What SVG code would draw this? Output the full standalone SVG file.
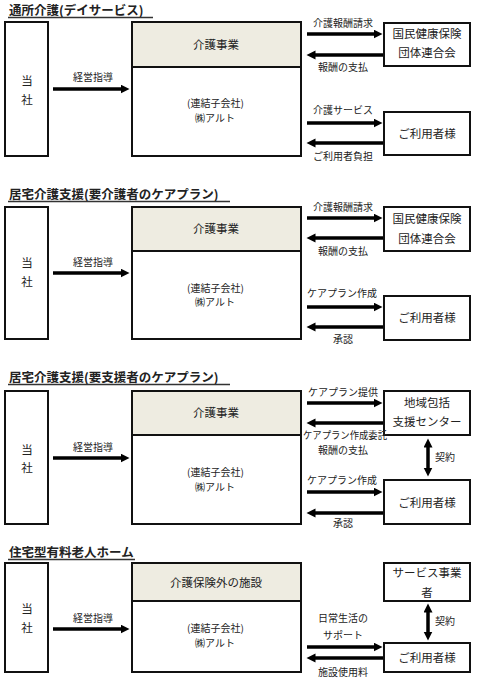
<svg xmlns="http://www.w3.org/2000/svg" width="480" height="683" viewBox="0 0 480 683">
<style>
text{font-family:"Noto Sans CJK JP","Noto Sans",sans-serif;fill:#222}
.t{font-size:12.5px;font-weight:bold}
.ul{stroke:#333;stroke-width:1.5}
.b{fill:#fff;stroke:#111;stroke-width:2}
.h{fill:#EEECE1;stroke:#111;stroke-width:2}
.n{font-size:11.5px;text-anchor:middle}
.s{font-size:10px}
.c{text-anchor:middle}
.a{stroke:#000;stroke-width:3.5;fill:none;marker-end:url(#ah)}
.d{stroke:#000;stroke-width:3.5;fill:none;marker-end:url(#ah);marker-start:url(#ah)}
</style>
<defs>
<marker id="ah" markerWidth="10" markerHeight="10" refX="1.5" refY="4.5" orient="auto-start-reverse" markerUnits="userSpaceOnUse"><path d="M0,0 L9,4.5 L0,9 z" fill="#000"/></marker>
</defs>

<!-- Section 1 -->
<g id="title1"><text class="t" x="9" y="15">通所介護(デイサービス)</text><line class="ul" x1="8" y1="17.5" x2="153" y2="17.5"/></g>
<g id="s1-company"><rect class="b" x="5" y="22" width="43" height="134"/><text class="n" x="27" y="85">当</text><text class="n" x="27" y="104">社</text></g>
<g id="s1-main"><rect class="b" x="132" y="22" width="169" height="134"/><rect class="h" x="132" y="22" width="169" height="45"/><text class="n" x="216" y="49">介護事業</text><text class="s" x="187" y="107">(連結子会社)</text><text class="s" x="195" y="122">㈱アルト</text></g>
<g id="s1-kokuho"><rect class="b" x="384" y="23" width="86" height="43"/><text class="n" x="427" y="38">国民健康保険</text><text class="n" x="427" y="57">団体連合会</text></g>
<g id="s1-user"><rect class="b" x="384" y="112" width="86" height="43"/><text class="n" x="427" y="138">ご利用者様</text></g>

<!-- Section 2 -->
<g id="title2"><text class="t" x="9" y="199">居宅介護支援(要介護者のケアプラン)</text><line class="ul" x1="8" y1="201.5" x2="230" y2="201.5"/></g>
<g id="s2-company"><rect class="b" x="5" y="207" width="43" height="132"/><text class="n" x="27" y="267">当</text><text class="n" x="27" y="286">社</text></g>
<g id="s2-main"><rect class="b" x="132" y="207" width="169" height="132"/><rect class="h" x="132" y="207" width="169" height="44"/><text class="n" x="216" y="233">介護事業</text><text class="s" x="187" y="292">(連結子会社)</text><text class="s" x="195" y="306">㈱アルト</text></g>
<g id="s2-kokuho"><rect class="b" x="384" y="207" width="86" height="44"/><text class="n" x="427" y="223">国民健康保険</text><text class="n" x="427" y="243">団体連合会</text></g>
<g id="s2-user"><rect class="b" x="384" y="296" width="86" height="44"/><text class="n" x="427" y="322">ご利用者様</text></g>

<!-- Section 3 -->
<g id="title3"><text class="t" x="9" y="382">居宅介護支援(要支援者のケアプラン)</text><line class="ul" x1="8" y1="384.5" x2="230" y2="384.5"/></g>
<g id="s3-company"><rect class="b" x="5" y="391" width="43" height="133"/><text class="n" x="27" y="454">当</text><text class="n" x="27" y="472">社</text></g>
<g id="s3-main"><rect class="b" x="132" y="391" width="169" height="133"/><rect class="h" x="132" y="391" width="169" height="44"/><text class="n" x="216" y="417">介護事業</text><text class="s" x="187" y="476">(連結子会社)</text><text class="s" x="195" y="491">㈱アルト</text></g>
<g id="s3-center"><rect class="b" x="384" y="391" width="86" height="44"/><text class="n" x="427" y="407">地域包括</text><text class="n" x="427" y="426">支援センター</text></g>
<g id="s3-user"><rect class="b" x="384" y="480" width="86" height="44"/><text class="n" x="427" y="507">ご利用者様</text></g>

<!-- Section 4 -->
<g id="title4"><text class="t" x="9" y="557">住宅型有料老人ホーム</text><line class="ul" x1="8" y1="559.5" x2="135" y2="559.5"/></g>
<g id="s4-company"><rect class="b" x="5" y="563" width="43" height="109"/><text class="n" x="27" y="613">当</text><text class="n" x="27" y="632">社</text></g>
<g id="s4-main"><rect class="b" x="132" y="563" width="169" height="109"/><rect class="h" x="132" y="563" width="169" height="38"/><text class="n" x="216" y="587">介護保険外の施設</text><text class="s" x="187" y="632">(連結子会社)</text><text class="s" x="195" y="647">㈱アルト</text></g>
<g id="s4-service"><rect class="b" x="384" y="563" width="86" height="38"/><text class="n" x="427" y="577">サービス事業</text><text class="n" x="427" y="597">者</text></g>
<g id="s4-user"><rect class="b" x="384" y="643" width="86" height="29"/><text class="n" x="427" y="662">ご利用者様</text></g>

<g id="connectors">
<!-- section 1 -->
<line class="a" x1="53" y1="89" x2="122" y2="89"/><text class="s c" x="93" y="81">経営指導</text>
<line class="a" x1="307" y1="34" x2="375" y2="34"/><text class="s c" x="343" y="27">介護報酬請求</text>
<line class="a" x1="383" y1="55" x2="314" y2="55"/><text class="s c" x="343" y="71">報酬の支払</text>
<line class="a" x1="307" y1="123" x2="375" y2="123"/><text class="s c" x="343" y="114">介護サービス</text>
<line class="a" x1="383" y1="143" x2="314" y2="143"/><text class="s c" x="343" y="160">ご利用者負担</text>
<!-- section 2 -->
<line class="a" x1="53" y1="273" x2="122" y2="273"/><text class="s c" x="93" y="266">経営指導</text>
<line class="a" x1="307" y1="218" x2="375" y2="218"/><text class="s c" x="343" y="211">介護報酬請求</text>
<line class="a" x1="383" y1="238" x2="314" y2="238"/><text class="s c" x="343" y="255">報酬の支払</text>
<line class="a" x1="307" y1="307" x2="375" y2="307"/><text class="s c" x="342" y="297">ケアプラン作成</text>
<line class="a" x1="383" y1="327" x2="314" y2="327"/><text class="s c" x="343" y="343">承認</text>
<!-- section 3 -->
<line class="a" x1="53" y1="458" x2="122" y2="458"/><text class="s c" x="93" y="451">経営指導</text>
<line class="a" x1="307" y1="403" x2="375" y2="403"/><text class="s c" x="343" y="396">ケアプラン提供</text>
<line class="a" x1="383" y1="423" x2="314" y2="423"/><text class="s c" x="345" y="439" textLength="84" lengthAdjust="spacingAndGlyphs">ケアプラン作成委託</text><text class="s c" x="343" y="454">報酬の支払</text>
<line class="d" x1="428" y1="446" x2="428" y2="469"/><text class="s" x="435" y="461">契約</text>
<line class="a" x1="307" y1="492" x2="375" y2="492"/><text class="s c" x="342" y="484">ケアプラン作成</text>
<line class="a" x1="383" y1="513" x2="314" y2="513"/><text class="s c" x="343" y="527">承認</text>
<!-- section 4 -->
<line class="a" x1="53" y1="629" x2="122" y2="629"/><text class="s c" x="93" y="622">経営指導</text>
<line class="d" x1="428" y1="611" x2="428" y2="633"/><text class="s" x="435" y="625">契約</text>
<text class="s c" x="343" y="622">日常生活の</text><text class="s c" x="343" y="639">サポート</text>
<line class="a" x1="307" y1="647" x2="375" y2="647"/>
<line class="a" x1="383" y1="658" x2="314" y2="658"/><text class="s c" x="343" y="676">施設使用料</text>
</g>
</svg>
